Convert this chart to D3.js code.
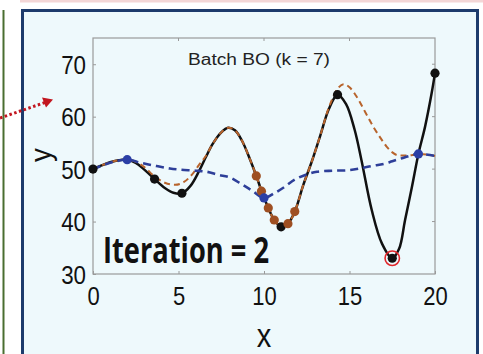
<!DOCTYPE html>
<html><head><meta charset="utf-8">
<script src="https://cdn.jsdelivr.net/npm/d3@7"></script>
<style>body{margin:0;background:#fff}svg{display:block}</style>
</head><body>
<svg id="c" width="483" height="354"></svg>
<script>
// ---- data ----
const xTicks = [0, 5, 10, 15, 20];
const yTicks = [30, 40, 50, 60, 70];
const trueX = [0,0.5,1,1.5,2,2.5,3,3.6,4.2,4.7,5.2,5.7,6.2,6.6,7,7.5,7.9,8.3,8.7,9.2,9.55,9.85,10.25,10.6,11,11.4,11.8,12.3,12.8,13.3,13.8,14.3,14.8,15.3,15.7,16.3,16.9,17.5,17.9,18.25,18.65,19.03,19.42,19.8,20];
const trueY = [50,50.7,51.3,51.7,51.8,51.2,49.9,48.1,46.4,45.5,45.4,46.8,49.6,52.3,54.8,57.0,57.9,57.4,55.5,51.7,48.7,45.9,42.6,40.3,39.0,39.6,41.9,47.0,51.5,56.5,61.5,64.2,62.4,57.5,51.7,42.2,35.8,33.0,34.8,40.3,46.6,52.9,58.1,64.4,68.3];
const brownX = [0,1,2,2.5,3,3.6,4.2,4.8,5.3,5.8,6.2,6.6,7,7.5,7.9,8.3,8.7,9.2,9.55,9.85,10.25,10.6,11,11.4,11.8,12.3,12.8,13.3,13.8,14.3,14.65,15.0,15.42,15.9,16.39,16.8,17.17,17.5,17.76,18.3,19.03,19.5,20];
const brownY = [50,51.3,51.8,51.4,50.4,48.6,47.4,47.0,47.5,49.0,50.8,52.5,54.8,57.0,57.9,57.4,55.5,51.7,48.7,45.9,42.6,40.3,39.1,39.6,41.9,47.0,51.5,56.5,61.8,65.3,66.2,65.6,63.8,61.0,58.1,56.0,54.3,53.2,52.7,52.6,52.8,52.8,52.5];
const blueX = [0,1,2,2.8,3.7,4.5,5.1,6,6.65,7.33,8,8.7,9.3,10,10.6,11.2,11.8,12.5,13.1,14,15,15.7,16.3,17,17.5,18,18.5,19.03,20];
const blueY = [50,51.2,51.8,51.2,50.6,50.1,49.9,49.7,49.5,48.9,48.4,47.1,45.9,44.5,45.4,46.6,48.0,49.0,49.5,49.7,49.8,50.2,50.6,51.0,51.5,52.0,52.5,52.9,52.5];
const blackPtsX = [0, 3.6, 5.2, 11.0, 14.3, 17.5, 20];
const blackPtsY = [50, 48.1, 45.4, 39.0, 64.2, 33.0, 68.3];
const bluePtsX = [2, 10, 19.03];
const bluePtsY = [51.8, 44.5, 52.9];
const brownPtsX = [9.55, 9.85, 10.25, 10.6, 11.4, 11.8];
const brownPtsY = [48.7, 45.8, 42.6, 40.3, 39.6, 41.9];
const bestX = [17.5];
const bestY = [33.0];
const titleText = "Batch BO (k = 7)";
const iterText = "Iteration = 2";

// ---- drawing ----
const svg = d3.select("#c");
svg.append("rect").attr("x",20).attr("y",0).attr("width",463).attr("height",2.5).attr("fill","#f3d6d6");
svg.append("line").attr("x1",3.5).attr("x2",3.5).attr("y1",10).attr("y2",354).attr("stroke","#4a6e30").attr("stroke-width",2);
svg.append("rect").attr("x",22.5).attr("y",10.5).attr("width",455).attr("height",360)
  .attr("fill","#eef9fc").attr("stroke","#1d3b6c").attr("stroke-width",3);

const x = d3.scaleLinear().domain([0,20]).range([93,435]);
const y = d3.scaleLinear().domain([30,75]).range([274,38]);
const L = 93, R = 435, T = 38, B = 274;

const gray = "#9a9a9a";
svg.append("rect").attr("x",L).attr("y",T).attr("width",R-L).attr("height",B-T)
  .attr("fill","none").attr("stroke",gray).attr("stroke-width",1.2);

function condense(sel, s){
  sel.selectAll("text").each(function(){
    const t = d3.select(this);
    const tx = +t.attr("x") || 0, ty = +t.attr("y") || 0;
    t.attr("x",0).attr("y",0).attr("transform",`translate(${tx},${ty}) scale(${s},1)`);
  });
}
const font = "'Liberation Sans', Arial, sans-serif";
const gx = svg.append("g").attr("transform",`translate(0,${B})`)
  .call(d3.axisBottom(x).tickValues(xTicks).tickSizeInner(-3).tickSizeOuter(0).tickPadding(13));
const gy = svg.append("g").attr("transform",`translate(${L},0)`)
  .call(d3.axisLeft(y).tickValues(yTicks).tickSizeInner(-3).tickSizeOuter(0).tickPadding(7));
[gx, gy].forEach(g=>{
  g.select(".domain").remove();
  g.selectAll("line").attr("stroke",gray);
  g.selectAll("text").attr("fill","#111").style("font-family",font);
});
gx.selectAll("text").style("font-size","25px");
gy.selectAll("text").style("font-size","26px").attr("dy","0.35em");
condense(gx, 0.88); condense(gy, 0.86);
svg.append("g").selectAll("line").data(xTicks.slice(1,-1)).join("line")
  .attr("x1",d=>x(d)).attr("x2",d=>x(d)).attr("y1",T).attr("y2",T+3).attr("stroke",gray);
svg.append("g").selectAll("line").data(yTicks.slice(1)).join("line")
  .attr("x1",R).attr("x2",R-3).attr("y1",d=>y(d)).attr("y2",d=>y(d)).attr("stroke",gray);

svg.append("text").attr("transform","translate(264,347) scale(0.88,1)").attr("text-anchor","middle")
  .style("font-family",font).style("font-size","33px").attr("fill","#111").text("x");
svg.append("text").attr("transform","translate(51,155) rotate(-90) scale(0.95,1)").attr("text-anchor","middle")
  .style("font-family",font).style("font-size","29px").attr("fill","#111").text("y");

svg.append("text").attr("x",259).attr("y",65).attr("text-anchor","middle")
  .attr("textLength",142).attr("lengthAdjust","spacingAndGlyphs")
  .style("font-family",font).style("font-size","16px").attr("fill","#222").text(titleText);

const line = d3.line().x(d=>x(d[0])).y(d=>y(d[1])).curve(d3.curveCatmullRom.alpha(0.5));
const zip = (a,b)=>a.map((v,i)=>[v,b[i]]);
svg.append("path").datum(zip(trueX,trueY)).attr("d",line)
  .attr("fill","none").attr("stroke","#111").attr("stroke-width",2.5);
svg.append("path").datum(zip(brownX,brownY)).attr("d",line)
  .attr("fill","none").attr("stroke","#b8642c").attr("stroke-width",2).attr("stroke-dasharray","6,4");
svg.append("path").datum(zip(blueX,blueY)).attr("d",line)
  .attr("fill","none").attr("stroke","#2e3f99").attr("stroke-width",2.6).attr("stroke-dasharray","8,5");

function dots(xs, ys, color, r){
  svg.append("g").selectAll("circle").data(zip(xs,ys)).join("circle")
    .attr("cx",d=>x(d[0])).attr("cy",d=>y(d[1])).attr("r",r).attr("fill",color);
}
dots(blackPtsX, blackPtsY, "#111", 4.6);
dots(brownPtsX, brownPtsY, "#9e4f22", 4.6);
dots(bluePtsX, bluePtsY, "#2b3fa6", 4.6);
svg.append("g").selectAll("circle").data(zip(bestX,bestY)).join("circle")
  .attr("cx",d=>x(d[0])).attr("cy",d=>y(d[1])).attr("r",7.2)
  .attr("fill","none").attr("stroke","#e0262b").attr("stroke-width",1.6);

svg.append("text").attr("x",103).attr("y",263).attr("textLength",166).attr("lengthAdjust","spacingAndGlyphs")
  .style("font-family","'Open Sans', sans-serif").style("font-weight","bold").style("font-size","35px")
  .attr("fill","#111").text(iterText);

svg.append("path").attr("d","M0,118 L45,102.5").attr("stroke","#c2161f").attr("stroke-width",3)
  .attr("stroke-dasharray","2.5,2.5").attr("fill","none");
svg.append("path").attr("d","M53,99.5 L42,97.5 L46,107.5 Z").attr("fill","#c2161f");
</script>
</body></html>
